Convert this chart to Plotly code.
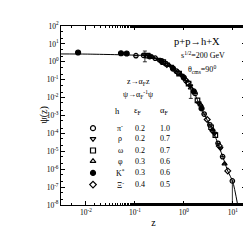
import plotly.graph_objects as go

# ---- data ----
z_fit = [0.0031, 0.01, 0.1, 0.2, 0.32, 0.47, 0.66, 0.95, 1.32, 1.51, 2.14, 2.69, 3.39, 3.89, 4.9, 6.3, 7.9, 10.0, 12.6]
psi_fit = [2.75, 2.7, 2.35, 2.1, 1.26, 0.68, 0.355, 0.148, 0.055, 0.030, 3.5e-3, 1.0e-3, 2.9e-4, 1.5e-4, 3.0e-5, 4.6e-6, 7.9e-7, 2.0e-7, 1.0e-8]

pi_z = [0.105, 0.15, 0.26, 0.42, 0.7, 1.1, 1.7, 2.6, 3.4, 3.9, 5.0, 6.2, 9.8]
pi_psi = [2.2, 2.3, 1.6, 0.8, 0.3, 0.09, 0.017, 1.2e-3, 3.0e-4, 1.4e-4, 2.8e-5, 5e-6, 2.2e-7]
pi_err_lo = [0, 0, 0, 0, 0, 0, 0, 0, 0, 0, 0, 0, 2.19e-7]

rho_z = [0.16, 0.3, 0.55, 0.9, 1.35, 2.0, 4.2, 5.6]
rho_psi = [2.4, 1.35, 0.55, 0.17, 0.045, 5e-3, 1.0e-4, 1.5e-5]
rho_err_hi = [1.6, 0, 0, 0, 0, 0, 0, 0]
rho_err_lo = [1.4, 0, 0, 0, 0, 0, 0, 0]

omega_z = [0.18, 0.38, 0.8, 1.25, 1.9, 3.6, 4.4]
omega_psi = [2.2, 0.95, 0.22, 0.06, 7e-3, 2.2e-4, 8e-5]

phi_z = [0.23, 0.5, 0.85, 1.39, 2.2, 3.8, 6.8]
phi_psi = [1.8, 0.65, 0.2, 0.035, 4e-3, 1.6e-4, 2e-6]
phi_err_hi = [0, 0, 0, 0.012, 0, 0, 0]
phi_err_lo = [0, 0, 0, 0.026, 0, 0, 0]

kstar_z = [0.0069, 0.052, 0.068, 0.2, 0.35, 0.6, 1.0, 1.6, 2.3]
kstar_psi = [3.3, 3.0, 2.9, 2.0, 1.1, 0.42, 0.13, 0.022, 2.5e-3]

xi_z = [0.45, 0.75, 1.2, 3.0, 5.3, 7.9]
xi_psi = [0.7, 0.26, 0.07, 6e-4, 2e-5, 8e-7]

y_ticks = [1e2, 1e1, 1e0, 1e-1, 1e-2, 1e-3, 1e-4, 1e-5, 1e-6, 1e-7, 1e-8]
y_ticktext = ["10<sup>2</sup>", "10<sup>1</sup>", "10<sup>0</sup>", "10<sup>-1</sup>", "10<sup>-2</sup>",
              "10<sup>-3</sup>", "10<sup>-4</sup>", "10<sup>-5</sup>", "10<sup>-6</sup>", "10<sup>-7</sup>", "10<sup>-8</sup>"]
x_ticks = [1e-2, 1e-1, 1e0, 1e1]
x_ticktext = ["10<sup>-2</sup>", "10<sup>-1</sup>", "10<sup>0</sup>", "10<sup>1</sup>"]

hadrons = ["π<sup>-</sup>", "ρ", "ω", "φ", "K<sup>*</sup>", "Ξ<sup>-</sup>"]
eps_F = ["0.2", "0.2", "0.2", "0.3", "0.3", "0.4"]
alpha_F = ["1.0", "0.7", "0.7", "0.6", "0.6", "0.5"]
symbols = ["circle-open", "triangle-down-open", "square-open", "triangle-up-open", "circle", "diamond-open"]

FONT = "Liberation Serif"
fig = go.Figure()

fig.add_trace(go.Scatter(x=z_fit, y=psi_fit, mode="lines", line=dict(color="black", width=1, shape="spline", smoothing=0.6),
                         showlegend=False, hoverinfo="skip"))

def pts(x, y, sym, size=4.5, ehi=None, elo=None):
    ey = None
    if ehi is not None or elo is not None:
        ey = dict(type="data", symmetric=False,
                  array=ehi if ehi is not None else [0]*len(x),
                  arrayminus=elo if elo is not None else [0]*len(x),
                  color="black", thickness=0.8, width=2)
    fig.add_trace(go.Scatter(x=x, y=y, mode="markers", error_y=ey,
                             marker=dict(symbol=sym, size=size, color="black", line=dict(color="black", width=1.2)),
                             showlegend=False))

pts(pi_z, pi_psi, symbols[0], elo=pi_err_lo)
pts(rho_z, rho_psi, symbols[1], ehi=rho_err_hi, elo=rho_err_lo)
pts(omega_z, omega_psi, symbols[2])
pts(phi_z, phi_psi, symbols[3], ehi=phi_err_hi, elo=phi_err_lo)
pts(kstar_z, kstar_psi, symbols[4], size=5)
pts(xi_z, xi_psi, symbols[5])

# legend-table overlay axes in pixel-like units
row_y = [118, 129, 141, 152, 164, 176]
fig.add_trace(go.Scatter(x=[85]*6, y=row_y, mode="markers", xaxis="x2", yaxis="y2",
                         marker=dict(symbol=symbols, size=5, color="black", line=dict(color="black", width=1.2)),
                         showlegend=False, hoverinfo="skip"))

ann = []
def t(x, y, s, size=8):
    ann.append(dict(x=x, y=y, xref="x2", yref="y2", text=s, showarrow=False,
                    font=dict(family=FONT, size=size, color="black")))

t(189, 29, "p+p→h+X", 10.5)
t(195, 43, "s<sup>1/2</sup>=200 GeV", 8)
t(194, 58, "θ<sub>cms</sub>=90<sup>0</sup>", 8)
t(130, 71, "z→α<sub>F</sub>z", 8)
t(130, 83, "ψ→α<sub>F</sub><sup>-1</sup>ψ", 8)
t(109, 100, "h", 8.5)
t(130, 100, "ε<sub>F</sub>", 8.5)
t(156, 100, "α<sub>F</sub>", 8.5)
for i in range(6):
    t(112, row_y[i], hadrons[i], 8)
    t(132, row_y[i], eps_F[i], 8)
    t(157, row_y[i], alpha_F[i], 8)

# y-axis title placed explicitly
ann.append(dict(x=-0.14, y=0.5, xref="paper", yref="paper", text="ψ(z)", textangle=-90, showarrow=False,
                font=dict(family=FONT, size=10, color="black")))

axis_common = dict(type="log", showline=True, linecolor="black", linewidth=1, mirror="allticks",
                   ticks="inside", ticklen=4, tickcolor="black", showgrid=False, zeroline=False,
                   tickfont=dict(family=FONT, size=7.5, color="black"),
                   minor=dict(ticks="inside", ticklen=2, tickcolor="black", showgrid=False))

fig.update_layout(
    width=251, height=251,
    margin=dict(l=53, r=13, t=13, b=54),
    paper_bgcolor="white", plot_bgcolor="white",
    font=dict(family=FONT, color="black"),
    xaxis=dict(**axis_common, range=[-2.51, 1.27], tickvals=x_ticks, ticktext=x_ticktext,
               title=dict(text="z", font=dict(family=FONT, size=10), standoff=2)),
    yaxis=dict(**axis_common, range=[-8, 2], tickvals=y_ticks, ticktext=y_ticktext),
    xaxis2=dict(overlaying="x", range=[53, 238], visible=False, showgrid=False),
    yaxis2=dict(overlaying="y", range=[197, 13], visible=False, showgrid=False),
    annotations=ann,
    showlegend=False,
)

fig.write_html("out.html")
